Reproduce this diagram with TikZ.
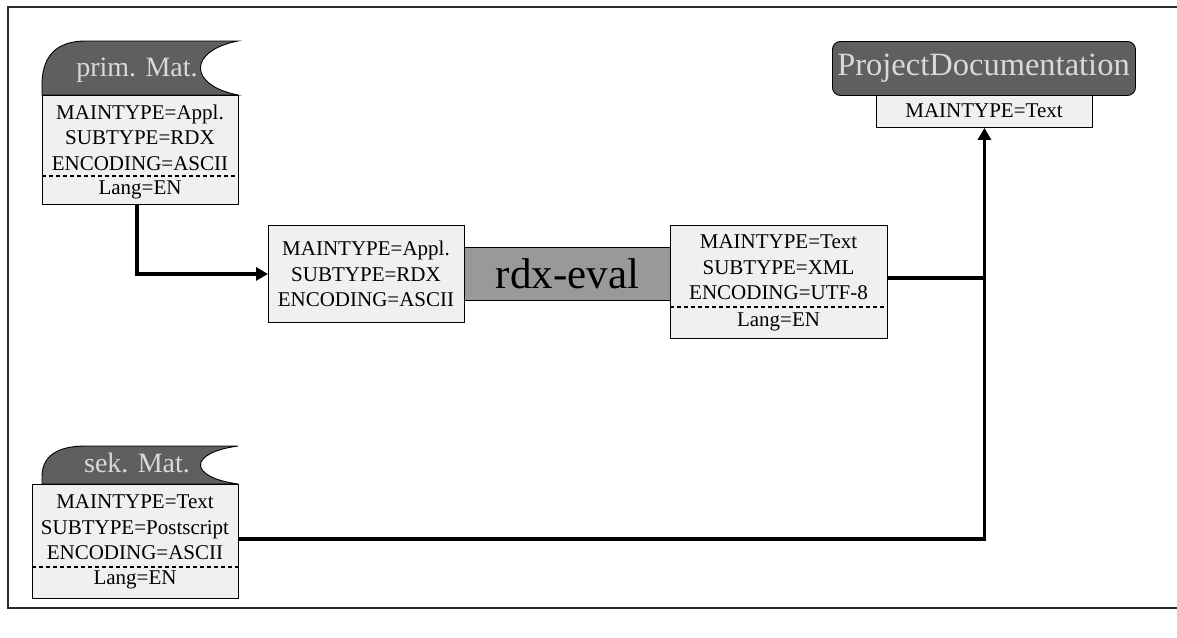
\documentclass[tikz,border=0pt]{standalone}
\usepackage{fontspec}
\setmainfont{Liberation Serif}
\usetikzlibrary{arrows.meta}
\definecolor{tagfill}{HTML}{5F5F5F}
\definecolor{tagtxt}{HTML}{D9D9D9}
\definecolor{boxfill}{HTML}{F0F0F0}
\definecolor{barfill}{HTML}{999999}
\definecolor{framecol}{HTML}{2A2A2A}
\tikzset{
  infobox/.style={draw=black, line width=0.9pt, fill=boxfill, inner sep=0pt, anchor=north west},
  boxtext/.style={inner sep=0pt, align=center, font=\fontsize{21}{25.5}\selectfont},
  tagtext/.style={inner sep=0pt, text=tagtxt, font=\fontsize{28}{30}\selectfont},
  flow/.style={line width=3.4pt, black},
  flowarrow/.style={flow, -{Triangle[length=12pt,width=13pt]}},
  sepline/.style={dashed, line width=1.1pt, dash pattern=on 4pt off 3pt},
  % material tag: rounded top-left corner, concave bite on the right; #1 = height
  pics/mattag/.style={code={
    \filldraw[fill=tagfill, draw=black, line width=0.9pt]
      (0,0) -- (0,{-0.12*#1}) .. controls (-1,{-0.72*#1}) and (14,-#1) .. (44,-#1)
      -- (196,-#1) .. controls (146,{-0.82*#1}) and (146,{-0.18*#1}) .. (196,0) -- cycle;
  }}
}
\begin{document}
\begin{tikzpicture}[x=1pt,y=-1pt]
\useasboundingbox (0,0) rectangle (1177,637);
\fill[white] (0,0) rectangle (1177,637);
% outer frame (open to the right)
\draw[framecol, line width=1.6pt] (1180,7) -- (8,7) -- (8,608) -- (1180,608);

% primary material
\pic at (42,95) {mattag=54};
\node[tagtext] (primtag) at (137,70) {prim. Mat.};
\node[infobox, minimum width=196pt, minimum height=109pt] (primbox) at (42,95) {};
\node[boxtext] (primtxt) at (140,137.5) {MAINTYPE=Appl.\\SUBTYPE=RDX\\ENCODING=ASCII};
\draw[sepline] (primbox.west |- 0,176) -- (primbox.east |- 0,176);
\node[boxtext] (primlang) at (140,190) {Lang=EN};

% secondary material
\pic at (42,484) {mattag=38};
\node[tagtext] (sektag) at (137,463) {sek. Mat.};
\node[infobox, minimum width=206pt, minimum height=114pt] (sekbox) at (32,484) {};
\node[boxtext] (sektxt) at (135,527.5) {MAINTYPE=Text\\SUBTYPE=Postscript\\ENCODING=ASCII};
\draw[sepline] (sekbox.west |- 0,567) -- (sekbox.east |- 0,567);
\node[boxtext] (seklang) at (135,580) {Lang=EN};

% rdx-eval processing step
\node[infobox, minimum width=196pt, minimum height=97pt] (rdxin) at (268,225) {};
\node[boxtext] (rdxintxt) at (366,274) {MAINTYPE=Appl.\\SUBTYPE=RDX\\ENCODING=ASCII};
\node[draw=black, line width=0.9pt, fill=barfill, anchor=north west, minimum width=206pt, minimum height=53pt, inner sep=0pt,
      font=\fontsize{43}{45}\selectfont] (rdxeval) at (464,247) {rdx-eval};
\node[infobox, minimum width=217pt, minimum height=113pt] (rdxout) at (670,225) {};
\node[boxtext] (rdxouttxt) at (778.5,267.5) {MAINTYPE=Text\\SUBTYPE=XML\\ENCODING=UTF-8};
\draw[sepline] (rdxout.west |- 0,307) -- (rdxout.east |- 0,307);
\node[boxtext] (rdxoutlang) at (778.5,322) {Lang=EN};

% project documentation
\node[draw=black, line width=0.9pt, fill=tagfill, rounded corners=8pt, anchor=north west, minimum width=303pt, minimum height=54pt,
      inner sep=0pt] (pdtag) at (832,41) {};
\node[inner sep=0pt, text=tagtxt, font=\fontsize{32.5}{34}\selectfont] (pdtitle) at (983.5,68) {ProjectDocumentation};
\node[infobox, minimum width=216pt, minimum height=32pt] (pdbox) at (876,95) {};
\node[boxtext] (pdtxt) at (984,111) {MAINTYPE=Text};

% connectors
\coordinate (joint) at (984,278);
\draw[flowarrow] (primbox.south -| 137,0) |- (rdxin.west);
\draw[flow] (rdxout.east |- joint) -- (joint);
\draw[flowarrow] (sekbox.east |- 0,539) -| (pdbox.south);
\end{tikzpicture}
\end{document}
